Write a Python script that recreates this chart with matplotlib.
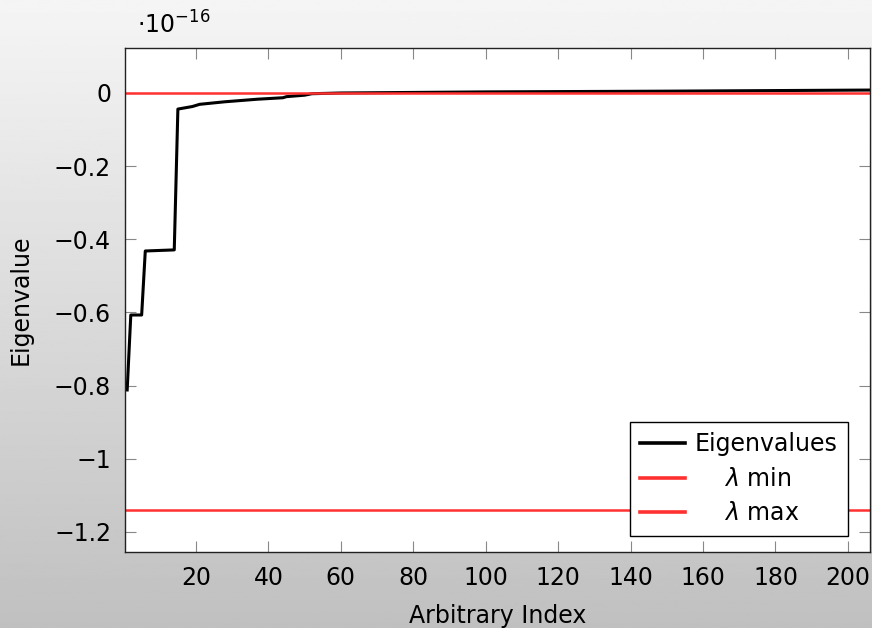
import matplotlib
matplotlib.use("Agg")
import matplotlib.pyplot as plt
import numpy as np

# Eigenvalue readings (index, value in units of 1e-16)
idx = [1, 2, 5, 6, 14, 15, 19, 21, 28, 37, 44, 45, 50, 52, 60, 100, 150, 206]
eig = [-0.812, -0.607, -0.607, -0.432, -0.429, -0.044, -0.037, -0.031, -0.024,
       -0.017, -0.013, -0.010, -0.006, -0.002, 0.0, 0.003, 0.005, 0.008]
lam_min = 0.0
lam_max = -1.14

xticks = [20, 40, 60, 80, 100, 120, 140, 160, 180, 200]
yticks = [0, -0.2, -0.4, -0.6, -0.8, -1, -1.2]

plt.rcParams['font.family'] = ['DejaVu Sans']
plt.rcParams['mathtext.fontset'] = 'dejavusans'
plt.rcParams['font.size'] = 17

fig = plt.figure(figsize=(8.72, 6.28), dpi=100)

# background gradient
bg = fig.add_axes([0, 0, 1, 1], zorder=-10)
grad = np.linspace(245, 192, 256).reshape(-1, 1) / 255.0
bg.imshow(grad, aspect='auto', cmap='gray', vmin=0, vmax=1, extent=[0, 1, 0, 1])
bg.axis('off')

ax = fig.add_axes([125 / 872, 76 / 628, 745 / 872, 504 / 628])
ax.set_facecolor('white')

ax.plot(idx, eig, color='black', lw=2.2, label='Eigenvalues')
ax.axhline(lam_min, color='#ff3030', lw=1.8, label='    $\\lambda$ min')
ax.axhline(lam_max, color='#ff3030', lw=1.8, label='    $\\lambda$ max')

ax.set_xlim(0.4, 206.1)
ax.set_ylim(-1.255, 0.123)
ax.set_xticks(xticks)
ax.set_yticks(yticks)
ax.set_yticklabels(['0', '\u22120.2', '\u22120.4', '\u22120.6', '\u22120.8', '\u22121', '\u22121.2'])
ax.tick_params(direction='in', length=8, color='#888888', top=True, right=True, pad=10)
for s in ax.spines.values():
    s.set_color('#222222')
    s.set_linewidth(1.0)

ax.set_xlabel('Arbitrary Index', labelpad=10)
ax.set_ylabel('Eigenvalue', labelpad=15)

leg = ax.legend(loc='lower right', bbox_to_anchor=(0.9705, 0.0317), borderaxespad=0,
                fancybox=False, framealpha=1, edgecolor='black', handlelength=1.9,
                borderpad=0.45, labelspacing=0.45, handletextpad=0.4)
leg.get_frame().set_linewidth(1.0)
for h in leg.get_lines():
    h.set_linewidth(2.6)

fig.text(137 / 872, 1 - 25 / 628, '$\\cdot 10^{-16}$', ha='left', va='center', fontsize=17)

fig.savefig('out.png', dpi=100)
